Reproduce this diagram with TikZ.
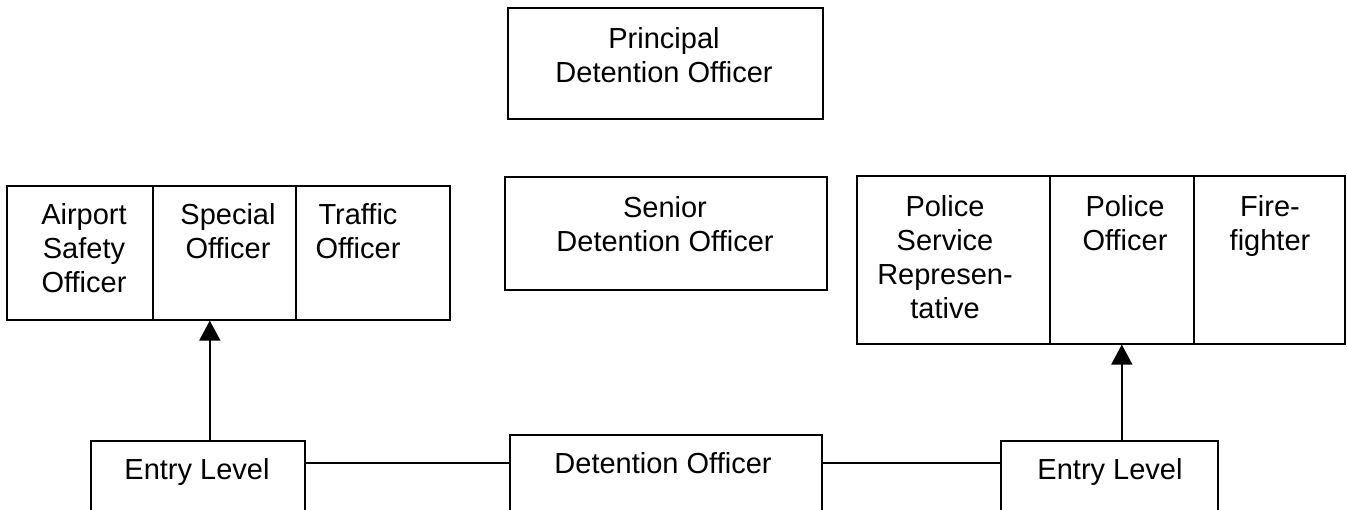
\documentclass[tikz,border=0pt]{standalone}
\usepackage{fontspec}
\setmainfont{Liberation Sans}
\usetikzlibrary{arrows.meta}
\begin{document}
\begin{tikzpicture}[x=1pt,y=-1pt,
  box/.style={draw=black,line width=1.6pt,rectangle,inner sep=0pt,anchor=north west},
  lbl/.style={anchor=north,inner sep=0pt,align=center,font=\fontsize{29}{34}\selectfont},
  conn/.style={draw=black,line width=1.6pt},
  arr/.style={conn,-{Triangle[width=21pt,length=20pt]}}]
\clip (0,0) rectangle (1347,510);
% top boxes
\node[box,minimum width=315pt,minimum height=111pt] (prin) at (507,7) {};
\node[box,minimum width=322pt,minimum height=113pt] (sen) at (504,176) {};
% left group
\node[box,minimum width=146pt,minimum height=134pt] (a1) at (6,185) {};
\node[box,minimum width=143pt,minimum height=134pt] (a2) at (152,185) {};
\node[box,minimum width=154pt,minimum height=134pt] (a3) at (295,185) {};
% right group
\node[box,minimum width=193pt,minimum height=168pt] (b1) at (856,175) {};
\node[box,minimum width=144pt,minimum height=168pt] (b2) at (1049,175) {};
\node[box,minimum width=151pt,minimum height=168pt] (b3) at (1193,175) {};
% bottom boxes
\node[box,minimum width=214pt,minimum height=110pt] (entryL) at (90,440) {};
\node[box,minimum width=312pt,minimum height=116pt] (det) at (509,434) {};
\node[box,minimum width=217pt,minimum height=110pt] (entryR) at (1000,440) {};
% labels
\node[lbl] (tprin) at (664,27) {Principal\\Detention Officer};
\node[lbl] (tsen) at (665,196) {Senior\\Detention Officer};
\node[lbl] (ta1) at (84,203) {Airport\\Safety\\Officer};
\node[lbl] (ta2) at (228,203) {Special\\Officer};
\node[lbl] (ta3) at (358,203) {Traffic\\Officer};
\node[lbl] (tb1) at (945,195) {Police\\Service\\Represen-\\tative};
\node[lbl] (tb2) at (1125,195) {Police\\Officer};
\node[lbl] (tb3) at (1270,195) {Fire-\\fighter};
\node[lbl] (tentryL) at (197,458) {Entry Level};
\node[lbl] (tdet) at (663,452) {Detention Officer};
\node[lbl] (tentryR) at (1110,458) {Entry Level};
% connectors
\draw[conn] ([yshift=-23pt]entryL.north east) -- ([yshift=-29pt]det.north west);
\draw[conn] ([yshift=-29pt]det.north east) -- ([yshift=-23pt]entryR.north west);
\draw[arr] ([xshift=12pt]entryL.north) -- ([xshift=12pt]entryL.north |- a2.south);
\draw[arr] (b2.south |- entryR.north) -- (b2.south);
\end{tikzpicture}
\end{document}
